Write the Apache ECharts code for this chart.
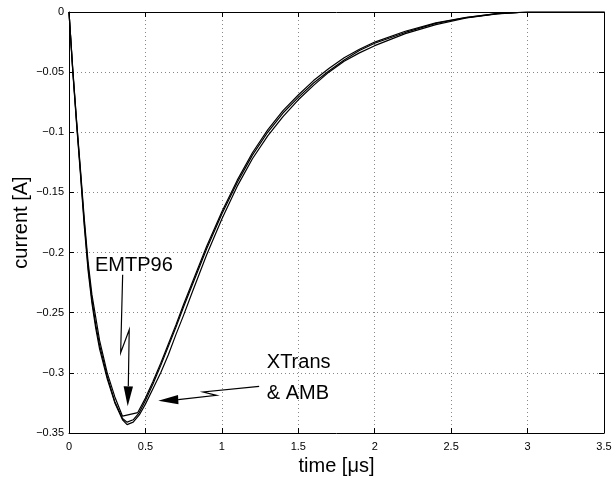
<!DOCTYPE html>
<html>
<head>
<meta charset="utf-8">
<script src="https://cdn.jsdelivr.net/npm/echarts@6/dist/echarts.min.js"></script>
<style>
html,body{margin:0;padding:0;background:#fff;}
#main{width:613px;height:487px;}
</style>
</head>
<body>
<div id="main"></div>
<script>
// time [us] / current [A]
var tXTrans = [0, 0.025, 0.05, 0.075, 0.1, 0.125, 0.15, 0.175, 0.2, 0.25, 0.3, 0.35, 0.38, 0.42, 0.46, 0.5, 0.55, 0.6, 0.65, 0.7, 0.75, 0.8, 0.9, 1.0, 1.1, 1.2, 1.3, 1.4, 1.5, 1.6, 1.7, 1.8, 1.9, 2.0, 2.2, 2.4, 2.6, 2.8, 3.0, 3.5];
var iXTrans = [0, -0.05, -0.094, -0.135, -0.178, -0.215, -0.242, -0.263, -0.28, -0.305, -0.325, -0.339, -0.343, -0.341, -0.335, -0.326, -0.313, -0.3, -0.285, -0.268, -0.252, -0.235, -0.202, -0.172, -0.145, -0.122, -0.103, -0.087, -0.073, -0.061, -0.05, -0.041, -0.034, -0.028, -0.018, -0.0105, -0.005, -0.0016, 0, 0];

var tAMB = [0, 0.025, 0.05, 0.075, 0.1, 0.125, 0.15, 0.175, 0.2, 0.25, 0.3, 0.35, 0.38, 0.42, 0.46, 0.5, 0.55, 0.6, 0.65, 0.7, 0.75, 0.8, 0.9, 1.0, 1.1, 1.2, 1.3, 1.4, 1.5, 1.6, 1.7, 1.8, 1.9, 2.0, 2.2, 2.4, 2.6, 2.8, 3.0, 3.5];
var iAMB = [0, -0.049, -0.092, -0.133, -0.175, -0.212, -0.239, -0.26, -0.277, -0.303, -0.324, -0.338, -0.341, -0.339, -0.333, -0.323, -0.309, -0.294, -0.278, -0.262, -0.245, -0.229, -0.197, -0.168, -0.142, -0.119, -0.1, -0.084, -0.071, -0.059, -0.049, -0.04, -0.032, -0.026, -0.017, -0.0095, -0.0046, -0.0014, 0, 0];

var tEMTP = [0, 0.025, 0.05, 0.075, 0.1, 0.125, 0.15, 0.2, 0.25, 0.3, 0.35, 0.45, 0.5, 0.55, 0.6, 0.65, 0.7, 0.75, 0.8, 0.9, 1.0, 1.1, 1.2, 1.3, 1.4, 1.5, 1.6, 1.7, 1.8, 1.9, 2.0, 2.2, 2.4, 2.6, 2.8, 3.0, 3.5];
var iEMTP = [0, -0.048, -0.091, -0.131, -0.172, -0.208, -0.235, -0.273, -0.3, -0.32, -0.336, -0.333, -0.321, -0.307, -0.292, -0.276, -0.26, -0.243, -0.227, -0.195, -0.166, -0.14, -0.117, -0.098, -0.082, -0.069, -0.057, -0.047, -0.038, -0.031, -0.025, -0.016, -0.009, -0.0045, -0.0013, 0, 0];

var xTicks = [0, 3.5, 0.5];
var yTicks = [-0.35, 0, 0.05];

// annotation arrows in data coords
var emtpArrow = [[0.351, -0.2184], [0.338, -0.2832], [0.394, -0.2641], [0.388, -0.3112]];
var emtpTip = [0.384, -0.3278];
var xtArrow = [[1.244, -0.3112], [0.878, -0.3159], [0.965, -0.3187], [0.714, -0.3223]];
var xtTip = [0.584, -0.3231];

var FONT = 'Liberation Sans, Arial, Helvetica, sans-serif';

function pairs(t, v) {
	var d = [];
	for (var k = 0; k < t.length; k++) {
		d.push([t[k], v[k]]);
	}
	return d;
}

function lineSeries(name, t, v) {
	return {
		name: name,
		type: 'line',
		data: pairs(t, v),
		showSymbol: false,
		symbol: 'none',
		smooth: false,
		lineStyle: { color: '#000', width: 1.2 },
		z: 3
	};
}

var myChart = echarts.init(document.getElementById('main'));
var option = {
	backgroundColor: '#fff',
	animation: false,
	grid: { left: 69, right: 9, top: 12, bottom: 54, containLabel: false, outerBoundsMode: 'none' },
	xAxis: [{
		type: 'value',
		min: xTicks[0], max: xTicks[1], interval: xTicks[2],
		name: 'time [\u03bcs]',
		nameLocation: 'middle',
		nameGap: 23,
		nameMoveOverlap: false,
		nameTextStyle: { fontFamily: FONT, fontSize: 20, color: '#000' },
		axisLine: { show: true, onZero: false, lineStyle: { color: '#000', width: 1 } },
		axisTick: { show: true, inside: true, length: 5, lineStyle: { color: '#000' } },
		axisLabel: { fontFamily: FONT, fontSize: 11, color: '#000', margin: 8 },
		splitLine: { show: true, lineStyle: { color: '#888', type: [1, 3], width: 1 } }
	}, {
		type: 'value', position: 'top',
		min: xTicks[0], max: xTicks[1], interval: xTicks[2],
		axisLine: { show: true, onZero: false, lineStyle: { color: '#000', width: 1 } },
		axisTick: { show: true, inside: true, length: 5, lineStyle: { color: '#000' } },
		axisLabel: { show: false },
		splitLine: { show: false }
	}],
	yAxis: [{
		type: 'value',
		min: yTicks[0], max: yTicks[1], interval: yTicks[2],
		name: 'current [A]',
		nameLocation: 'middle',
		nameGap: 38,
		nameMoveOverlap: false,
		nameTextStyle: { fontFamily: FONT, fontSize: 20, color: '#000' },
		axisLine: { show: true, onZero: false, lineStyle: { color: '#000', width: 1 } },
		axisTick: { show: true, inside: true, length: 5, lineStyle: { color: '#000' } },
		axisLabel: {
			fontFamily: FONT, fontSize: 11, color: '#000', margin: 5,
			formatter: function (v) {
				if (Math.abs(v) < 1e-9) return '0';
				return String(+v.toFixed(2)).replace('-', '\u2212');
			}
		},
		splitLine: { show: true, lineStyle: { color: '#888', type: [1, 3], width: 1 } }
	}, {
		type: 'value', position: 'right',
		min: yTicks[0], max: yTicks[1], interval: yTicks[2],
		axisLine: { show: true, onZero: false, lineStyle: { color: '#000', width: 1 } },
		axisTick: { show: true, inside: true, length: 5, lineStyle: { color: '#000' } },
		axisLabel: { show: false },
		splitLine: { show: false }
	}],
	series: [
		lineSeries('XTrans', tXTrans, iXTrans),
		lineSeries('AMB', tAMB, iAMB),
		lineSeries('EMTP96', tEMTP, iEMTP)
	]
};
myChart.setOption(option);

function px(p) {
	return myChart.convertToPixel({ xAxisIndex: 0, yAxisIndex: 0 }, p);
}

function arrow(pts, tip, headLen, headHalf) {
	var ppts = pts.map(px);
	var t = px(tip);
	var last = ppts[ppts.length - 1];
	var dx = t[0] - last[0], dy = t[1] - last[1];
	var len = Math.sqrt(dx * dx + dy * dy);
	var ux = dx / len, uy = dy / len;
	var bx = t[0] - ux * headLen, by = t[1] - uy * headLen;
	var head = [[t[0], t[1]], [bx - uy * headHalf, by + ux * headHalf], [bx + uy * headHalf, by - ux * headHalf]];
	ppts.push([bx, by]);
	return [
		{ type: 'polyline', shape: { points: ppts }, style: { stroke: '#000', lineWidth: 1.2, fill: null }, z: 10 },
		{ type: 'polygon', shape: { points: head }, style: { fill: '#000' }, z: 10 }
	];
}

var graphics = [];
graphics = graphics.concat(arrow(emtpArrow, emtpTip, 20, 4.7));
graphics = graphics.concat(arrow(xtArrow, xtTip, 20, 4.7));

var pE = px([0.17, -0.211]);
var pX = px([1.294, -0.2915]);
var pA = px([1.294, -0.3173]);
graphics.push({ type: 'text', x: pE[0], y: pE[1], style: { text: 'EMTP96', fontFamily: FONT, fontSize: 20, fill: '#000', textAlign: 'left', textVerticalAlign: 'middle' }, z: 11 });
graphics.push({ type: 'text', x: pX[0], y: pX[1], style: { text: 'XTrans', fontFamily: FONT, fontSize: 20, fill: '#000', textAlign: 'left', textVerticalAlign: 'middle' }, z: 11 });
graphics.push({ type: 'text', x: pA[0], y: pA[1], style: { text: '& AMB', fontFamily: FONT, fontSize: 20, fill: '#000', textAlign: 'left', textVerticalAlign: 'middle' }, z: 11 });

myChart.setOption({ graphic: graphics });
</script>
</body>
</html>
